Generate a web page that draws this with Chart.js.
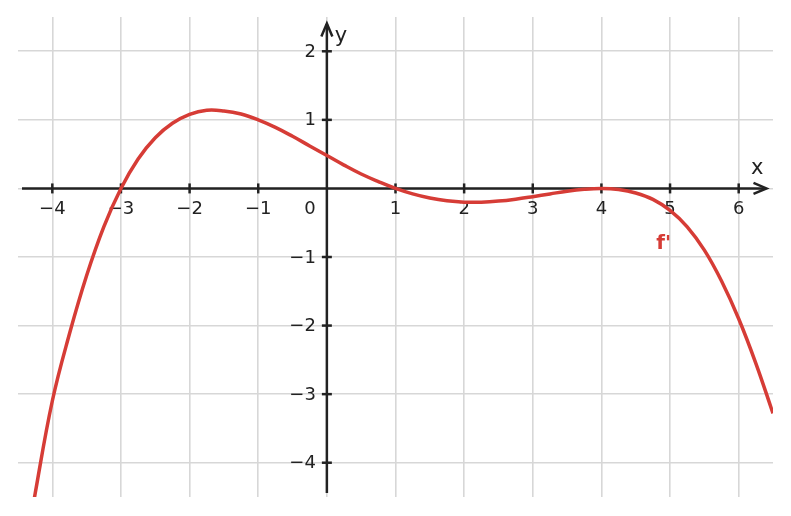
<!DOCTYPE html>
<html>
<head>
<meta charset="utf-8">
<script src="https://cdn.jsdelivr.net/npm/chart.js@4"></script>
<style>
  html, body { margin: 0; padding: 0; background: #ffffff; }
  #wrap { width: 791px; height: 516px; }
</style>
</head>
<body>
<div id="wrap"><canvas id="c" width="791" height="516"></canvas></div>
<script>
// ---- data ----
const xValues = [-4.5, -4.25, -4.0, -3.75, -3.5, -3.25, -3.0, -2.75, -2.5, -2.25, -2.0, -1.75, -1.5, -1.25, -1.0, -0.75, -0.5, -0.25, 0.0, 0.25, 0.5, 0.75, 1.0, 1.25, 1.5, 1.75, 2.0, 2.25, 2.5, 2.75, 3.0, 3.25, 3.5, 3.75, 4.0, 4.25, 4.5, 4.75, 5.0, 5.25, 5.5, 5.75, 6.0, 6.25, 6.5];
const fPrimeValues = [-5.9, -4.45, -3.1, -2.12, -1.27, -0.56, 0.0, 0.43, 0.74, 0.95, 1.08, 1.14, 1.13, 1.085, 1.0, 0.89, 0.76, 0.62, 0.48, 0.34, 0.21, 0.1, 0.0, -0.08, -0.14, -0.18, -0.2, -0.2, -0.185, -0.157, -0.12, -0.08, -0.04, -0.012, 0.0, -0.015, -0.066, -0.16, -0.32, -0.56, -0.9, -1.35, -1.9, -2.55, -3.28];
const xTickLabels = [-4, -3, -2, -1, 1, 2, 3, 4, 5, 6];
const yTickLabels = [-4, -3, -2, -1, 1, 2];
const seriesName = "f'";

const RED = '#d63c36';
const INK = '#222222';
const GRID = '#d7d7d7';
const FONT = '"DejaVu Sans", sans-serif';

function fmt(v) { return v < 0 ? '\u2212' + Math.abs(v) : String(v); }

const axesPlugin = {
  id: 'mathAxes',
  beforeDatasetsDraw(chart) {
    const ctx = chart.ctx;
    const xs = chart.scales.x, ys = chart.scales.y;
    const ox = xs.getPixelForValue(0), oy = ys.getPixelForValue(0);
    const area = chart.chartArea;
    ctx.save();
    ctx.strokeStyle = INK;
    ctx.fillStyle = INK;
    ctx.lineWidth = 2.5;
    ctx.lineCap = 'butt';
    // x axis
    ctx.beginPath();
    ctx.moveTo(area.left + 4, oy);
    ctx.lineTo(area.right - 7, oy);
    ctx.stroke();
    const tipX = area.right - 6.5;
    ctx.beginPath();
    ctx.moveTo(tipX - 13, oy - 5.5);
    ctx.lineTo(tipX, oy);
    ctx.lineTo(tipX - 13, oy + 5.5);
    ctx.lineJoin = 'miter';
    ctx.stroke();
    // y axis
    ctx.beginPath();
    ctx.moveTo(ox, area.bottom - 4);
    ctx.lineTo(ox, area.top + 7);
    ctx.stroke();
    const tipY = area.top + 6.5;
    ctx.beginPath();
    ctx.moveTo(ox - 5.5, tipY + 13);
    ctx.lineTo(ox, tipY);
    ctx.lineTo(ox + 5.5, tipY + 13);
    ctx.stroke();
    // tick marks
    xTickLabels.forEach(v => {
      const px = xs.getPixelForValue(v);
      ctx.beginPath(); ctx.moveTo(px, oy - 5); ctx.lineTo(px, oy + 5); ctx.stroke();
    });
    yTickLabels.forEach(v => {
      const py = ys.getPixelForValue(v);
      ctx.beginPath(); ctx.moveTo(ox - 5, py); ctx.lineTo(ox + 5, py); ctx.stroke();
    });
    // tick labels
    ctx.font = '18px ' + FONT;
    ctx.textBaseline = 'alphabetic';
    ctx.textAlign = 'center';
    xTickLabels.forEach(v => {
      const px = xs.getPixelForValue(v);
      ctx.fillText(fmt(v), px, oy + 26);
    });
    ctx.fillText('0', ox - 17, oy + 26);
    ctx.textAlign = 'right';
    yTickLabels.forEach(v => {
      const py = ys.getPixelForValue(v);
      ctx.fillText(fmt(v), ox - 11, py + 5.5);
    });
    // axis names
    ctx.textAlign = 'left';
    ctx.font = '21px ' + FONT;
    ctx.fillText('x', area.right - 22, oy - 14);
    ctx.fillText('y', ox + 8, area.top + 25);
    ctx.restore();
  },
  afterDatasetsDraw(chart) {
    const ctx = chart.ctx;
    const xs = chart.scales.x, ys = chart.scales.y;
    ctx.save();
    ctx.fillStyle = RED;
    ctx.font = 'bold 20px ' + FONT;
    ctx.textAlign = 'left';
    ctx.textBaseline = 'alphabetic';
    ctx.fillText(seriesName, xs.getPixelForValue(4.8), ys.getPixelForValue(-0.88));
    ctx.restore();
  }
};

const intTicks = (lo, hi) => (scale) => {
  const t = [];
  for (let v = lo; v <= hi; v++) t.push({ value: v });
  scale.ticks = t;
};

new Chart(document.getElementById('c'), {
  type: 'line',
  data: {
    datasets: [{
      label: seriesName,
      data: xValues.map((x, i) => ({ x: x, y: fPrimeValues[i] })),
      borderColor: RED,
      borderWidth: 3.5,
      pointRadius: 0,
      fill: false,
      tension: 0.4
    }]
  },
  options: {
    responsive: false,
    animation: false,
    devicePixelRatio: 1,
    layout: { padding: { left: 18, right: 18, top: 17, bottom: 19 } },
    plugins: { legend: { display: false }, tooltip: { enabled: false } },
    scales: {
      x: {
        type: 'linear', min: -4.5, max: 6.5,
        afterBuildTicks: intTicks(-4, 6),
        grid: { color: GRID, lineWidth: 1.6, drawTicks: false },
        border: { display: false },
        ticks: { display: false }
      },
      y: {
        type: 'linear', min: -4.5, max: 2.5,
        afterBuildTicks: intTicks(-4, 2),
        grid: { color: GRID, lineWidth: 1.6, drawTicks: false },
        border: { display: false },
        ticks: { display: false }
      }
    }
  },
  plugins: [axesPlugin]
});
</script>
</body>
</html>
